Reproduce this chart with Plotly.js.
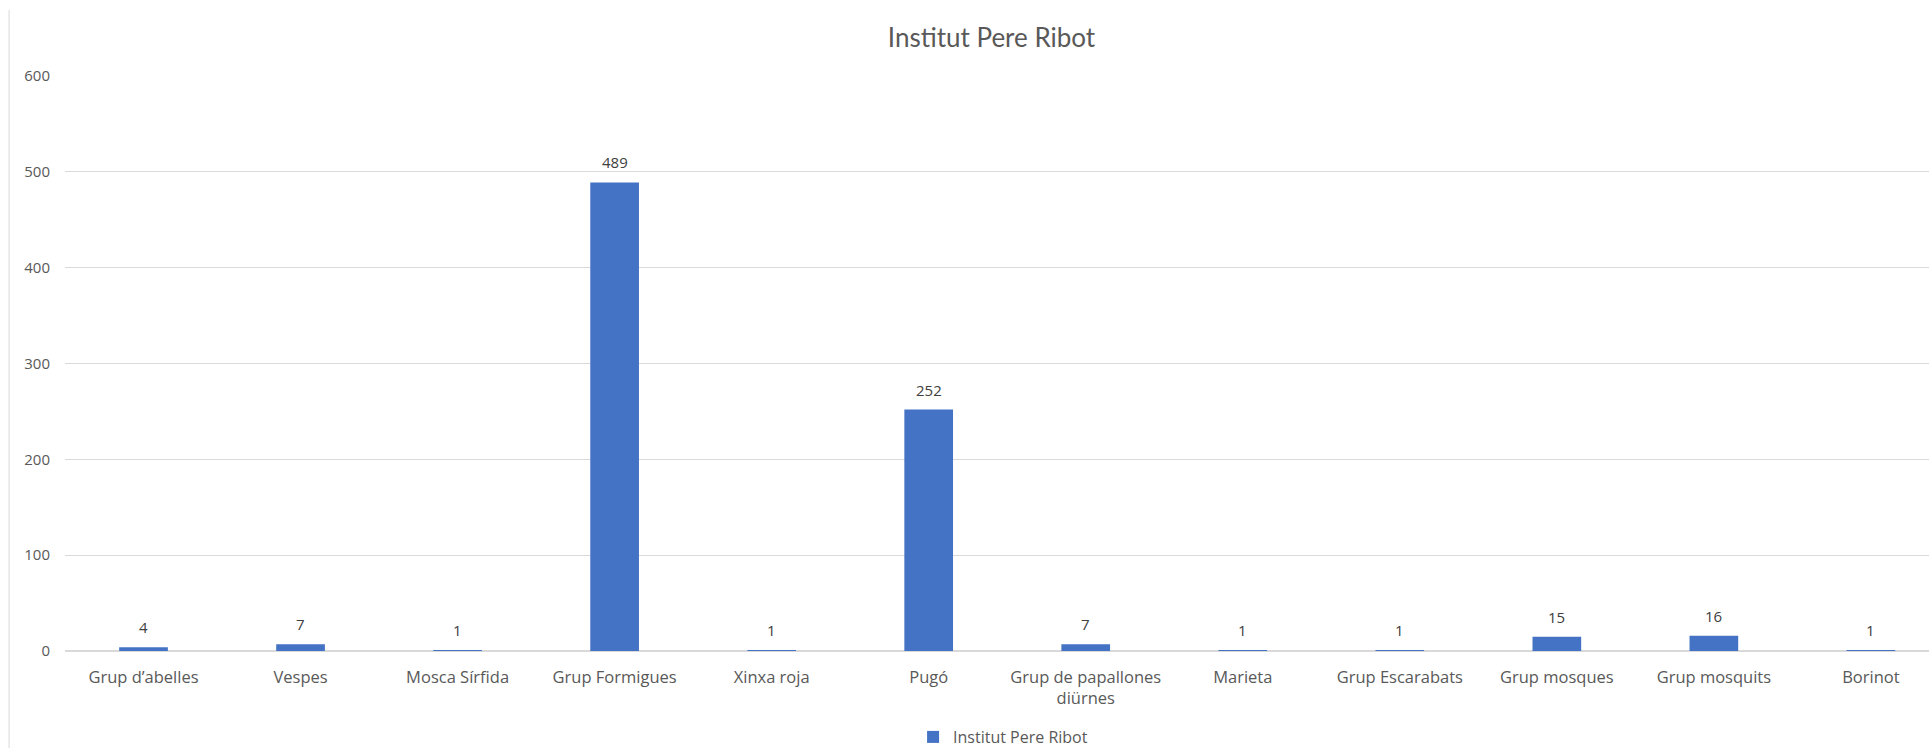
<!DOCTYPE html>
<html>
<head>
<meta charset="utf-8">
<script src="https://cdn.plot.ly/plotly-3.0.1.min.js"></script>
<style>html,body{margin:0;padding:0;background:#fff;overflow:hidden}</style>
</head>
<body>
<div id="chart" style="width:1929px;height:748px"></div>
<script>
const categories = ["Grup d’abelles", "Vespes", "Mosca Sírfida", "Grup Formigues", "Xinxa roja", "Pugó",
  "Grup de papallones<br>diürnes", "Marieta", "Grup Escarabats", "Grup mosques", "Grup mosquits", "Borinot"];
const values = [4, 7, 1, 489, 1, 252, 7, 1, 1, 15, 16, 1];
const seriesName = "Institut Pere Ribot";
const chartTitle = "Institut Pere Ribot";
const yTicks = [0, 100, 200, 300, 400, 500, 600];

const FONT = "'Open Sans', Lato, sans-serif";
const TITLE_FONT = "Lato, 'Open Sans', sans-serif";

const trace = {
  type: "bar",
  x: categories,
  y: values,
  name: seriesName,
  marker: {color: "#4472C4"},
  showlegend: true,
  hoverinfo: "none"
};

// data labels placed above each bar, built from the data arrays
const labels = categories.map((c, i) => ({
  x: c, y: values[i], xref: "x", yref: "y",
  text: String(values[i]),
  showarrow: false, yanchor: "bottom", yshift: 8,
  font: {family: FONT, size: 15, color: "#404040"}
}));

const layout = {
  width: 1929,
  height: 748,
  paper_bgcolor: "#ffffff",
  plot_bgcolor: "#ffffff",
  margin: {l: 65, r: 0, t: 76, b: 97, autoexpand: false},
  bargap: 0.69,
  title: {
    text: chartTitle,
    font: {family: TITLE_FONT, size: 26, color: "#595959"},
    x: 0.514, xref: "container", xanchor: "center",
    y: 0.949, yref: "container", yanchor: "middle"
  },
  xaxis: {
    type: "category",
    range: [-0.5, 11.37],
    showgrid: false,
    showline: false,
    zeroline: false,
    ticks: "",
    tickangle: 0,
    tickfont: {family: FONT, size: 16.5, color: "#595959"},
    ticklabelstandoff: 14,
    automargin: false,
    fixedrange: true
  },
  yaxis: {
    range: [0, 600],
    tickvals: yTicks,
    ticktext: yTicks.map(String),
    showgrid: true,
    gridcolor: "#d9d9d9",
    gridwidth: 1,
    zeroline: true,
    zerolinecolor: "#d9d9d9",
    zerolinewidth: 1.5,
    showline: false,
    ticks: "",
    tickfont: {family: FONT, size: 15, color: "#595959"},
    ticklabelstandoff: 14,
    automargin: false,
    fixedrange: true
  },
  legend: {
    orientation: "h",
    xref: "container", yref: "container",
    x: 0.52, xanchor: "center",
    y: 0.0147, yanchor: "middle",
    font: {family: FONT, size: 16, color: "#595959"},
    itemwidth: 30
  },
  annotations: labels,
  shapes: [
    {type: "line", xref: "paper", yref: "paper", x0: -0.03, x1: -0.03, y0: -0.17, y1: 1.115,
     line: {color: "#d9d9d9", width: 1}}
  ]
};

Plotly.newPlot("chart", [trace], layout, {displayModeBar: false, staticPlot: true});
</script>
</body>
</html>
